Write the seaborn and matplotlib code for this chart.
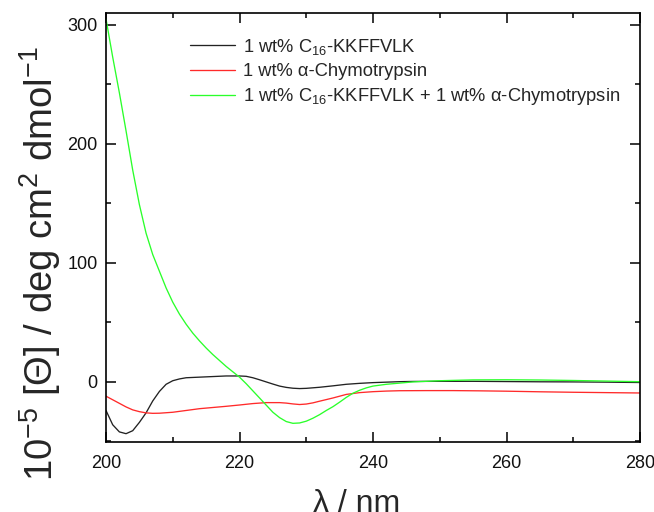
import matplotlib
matplotlib.use("Agg")
import matplotlib.pyplot as plt
from matplotlib.ticker import MultipleLocator
import pandas as pd
import seaborn as sns

# CD spectra: wavelength (nm) and mean residue ellipticity (10^-5 deg cm^2 dmol^-1)
wl_c16 = [200, 201, 202, 203, 204, 205, 206, 207, 208, 209, 210, 211, 212, 214, 216,
          218, 220, 221, 222, 223, 224, 225, 226, 227, 228, 229, 230, 232, 234, 236,
          238, 240, 242, 244, 246, 250, 255, 260, 265, 270, 275, 280]
theta_c16 = [-24, -36, -42, -43.5, -41, -34, -26, -16, -8, -2, 1, 2.5, 3.5, 4, 4.5,
             5, 5, 4.7, 3.5, 1.8, 0, -1.8, -3.5, -4.6, -5.3, -5.6, -5.4, -4.5, -3.3, -2,
             -1.2, -0.6, -0.2, 0.2, 0.4, 0.5, 0.5, 0.3, 0.1, 0, -0.2, -0.5]

wl_chy = [200, 201, 202, 203, 204, 205, 206, 207, 208, 210, 212, 214, 216, 218, 220,
          222, 224, 226, 227, 228, 229, 230, 231, 232, 234, 236, 238, 240, 242, 244,
          248, 252, 256, 260, 265, 270, 275, 280]
theta_chy = [-12, -15, -18, -21, -23.5, -25, -26, -26.4, -26.3, -25.5, -24, -22.5, -21.5,
             -20.5, -19.4, -18.2, -17.4, -17.4, -17.8, -18.5, -19, -18.6, -17.6, -16.2,
             -13.5, -10.5, -9, -8.2, -7.7, -7.4, -7.3, -7.3, -7.5, -7.8, -8.3, -8.7, -9, -9.3]

wl_mix = [200, 201, 202, 203, 204, 205, 206, 207, 208, 209, 210, 211, 212, 213, 214,
          215, 216, 217, 218, 219, 220, 221, 222, 223, 224, 225, 226, 227, 228, 229,
          230, 231, 232, 233, 234, 235, 236, 237, 238, 239, 240, 242, 244, 246, 250,
          255, 260, 265, 270, 275, 280]
theta_mix = [305, 273, 243, 211, 178, 149, 125, 107, 93, 79, 67, 57, 48.5, 41, 34.5,
             28.5, 23, 18, 13, 8.5, 4, -1.5, -7.5, -13.5, -19.5, -25.5, -30, -33.3, -34.8, -34.5,
             -33, -30.5, -27.5, -24, -20.8, -17, -13, -9.5, -7, -5, -3.5, -2, -1, 0, 1,
             1.7, 1.8, 1.6, 1.2, 0.7, 0.2]

labels = ["1 wt% C$_{16}$-KKFFVLK",
          "1 wt% α-Chymotrypsin",
          "1 wt% C$_{16}$-KKFFVLK + 1 wt% α-Chymotrypsin"]
colors = ["#222222", "#ff2a2a", "#2aff2a"]

sns.set_theme(style="ticks")
plt.rcParams["font.family"] = ["Liberation Sans", "DejaVu Sans"]
plt.rcParams["mathtext.fontset"] = "custom"
plt.rcParams["mathtext.rm"] = "Liberation Sans"
plt.rcParams["mathtext.it"] = "Liberation Sans:italic"
plt.rcParams["mathtext.bf"] = "Liberation Sans:bold"

frames = []
for w, t, lab in zip([wl_c16, wl_chy, wl_mix], [theta_c16, theta_chy, theta_mix], labels):
    frames.append(pd.DataFrame({"wl": w, "theta": t, "sample": lab}))
df = pd.concat(frames, ignore_index=True)

fig = plt.figure(figsize=(6.54, 5.12), dpi=100)
ax = fig.add_axes([0.1621, 0.1367, 0.8165, 0.8379])

sns.lineplot(data=df, x="wl", y="theta", hue="sample", hue_order=labels,
             palette=dict(zip(labels, colors)), estimator=None, sort=False,
             linewidth=0.95, ax=ax)

ax.set_xlim(200, 280)
ax.set_ylim(-50.5, 310)
ax.xaxis.set_major_locator(MultipleLocator(20))
ax.xaxis.set_minor_locator(MultipleLocator(10))
ax.yaxis.set_major_locator(MultipleLocator(100))
ax.yaxis.set_minor_locator(MultipleLocator(50))

for s in ax.spines.values():
    s.set_visible(True)
    s.set_linewidth(1.2)
    s.set_color("black")

ax.tick_params(which="both", direction="in", top=True, right=True, width=1.1,
               color="black", labelsize=13, labelcolor="#111111")
ax.tick_params(which="major", length=7)
ax.tick_params(which="minor", length=3.5)
ax.tick_params(axis="x", which="major", pad=9)
ax.tick_params(axis="y", which="major", pad=6)

ax.set_xlabel("λ / nm", fontsize=23)
ax.set_ylabel("10$^{-5}$ [Θ] / deg cm$^{2}$ dmol$^{-1}$", fontsize=27.5)
ax.xaxis.set_label_coords(0.469, -0.11)
ax.yaxis.set_label_coords(-0.08, 0.415)

handles, labs = ax.get_legend_handles_labels()
ax.legend(handles, labs, frameon=False, loc="upper left",
          bbox_to_anchor=(0.157, 0.945), borderaxespad=0, borderpad=0,
          fontsize=13.2, handlelength=2.45, handletextpad=0.45, labelspacing=0.35)

fig.savefig("out.png", dpi=100)
